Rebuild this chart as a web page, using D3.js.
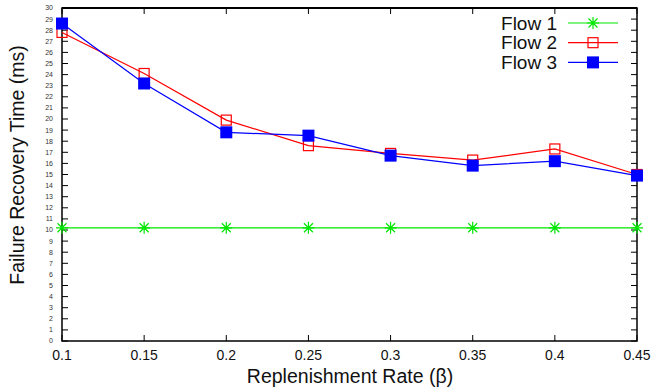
<!DOCTYPE html>
<meta charset="utf-8">
<style>
body { margin: 0; background: #fff; }
text { font-family: "Liberation Sans", Arial, Helvetica, sans-serif; }
.ytick text { font-size: 7px; fill: #333; }
.xtick text { font-size: 14px; fill: #111; }
.title { font-size: 19.5px; fill: #111; }
.legend text { font-size: 19px; fill: #111; }
</style>
<svg width="651" height="389"></svg>
<script src="https://d3js.org/d3.v7.min.js"></script>
<script>

var rates = [0.1, 0.15, 0.2, 0.25, 0.3, 0.35, 0.4, 0.45];
var flow1 = [10.2, 10.2, 10.2, 10.2, 10.2, 10.2, 10.2, 10.2];
var flow2 = [27.8, 24.1, 19.9, 17.6, 16.9, 16.3, 17.3, 15.0];
var flow3 = [28.6, 23.2, 18.8, 18.5, 16.7, 15.8, 16.2, 14.9];
var xTicks = ["0.1", "0.15", "0.2", "0.25", "0.3", "0.35", "0.4", "0.45"];
var yTicks = d3.range(0, 31);

var svg = d3.select("svg"),
    plotL = 62, plotR = 637, plotT = 8, plotB = 341;

var x = d3.scaleLinear().domain([0.1, 0.45]).range([plotL, plotR]);
var y = d3.scaleLinear().domain([0, 30]).range([plotB, plotT]);

var series = [
  {name: "Flow 1", values: flow1, color: "#00e600", marker: "star"},
  {name: "Flow 2", values: flow2, color: "#ff0000", marker: "open"},
  {name: "Flow 3", values: flow3, color: "#0000ff", marker: "filled"}
];

// ticks, gnuplot style (inward, mirrored)
var yt = svg.append("g").attr("class", "ytick");
yTicks.forEach(function(v) {
  yt.append("line").attr("x1", plotL).attr("x2", plotL + 6).attr("y1", y(v)).attr("y2", y(v)).attr("stroke", "#000");
  yt.append("line").attr("x1", plotR).attr("x2", plotR - 6).attr("y1", y(v)).attr("y2", y(v)).attr("stroke", "#000");
  yt.append("text").attr("x", plotL - 9).attr("y", y(v)).attr("dy", "0.35em")
    .attr("text-anchor", "end").text(v);
});

var xt = svg.append("g").attr("class", "xtick");
rates.forEach(function(v, i) {
  xt.append("line").attr("x1", x(v)).attr("x2", x(v)).attr("y1", plotB).attr("y2", plotB - 6).attr("stroke", "#000");
  xt.append("line").attr("x1", x(v)).attr("x2", x(v)).attr("y1", plotT).attr("y2", plotT + 6).attr("stroke", "#000");
  xt.append("text").attr("x", x(v)).attr("y", 360).attr("text-anchor", "middle").text(xTicks[i]);
});

svg.append("rect").attr("x", plotL).attr("y", plotT).attr("width", plotR - plotL).attr("height", plotB - plotT)
  .attr("fill", "none").attr("stroke", "#000").attr("stroke-width", 1.5);
svg.append("line").attr("x1", plotL).attr("x2", plotR).attr("y1", plotT).attr("y2", plotT)
  .attr("stroke", "#000").attr("stroke-width", 2);

function drawMarker(g, type, color, cx, cy) {
  if (type === "star") {
    var s = 6;
    g.append("path").attr("d",
      "M" + (cx - s) + "," + cy + "H" + (cx + s) +
      "M" + cx + "," + (cy - s) + "V" + (cy + s) +
      "M" + (cx - s * 0.75) + "," + (cy - s * 0.75) + "L" + (cx + s * 0.75) + "," + (cy + s * 0.75) +
      "M" + (cx - s * 0.75) + "," + (cy + s * 0.75) + "L" + (cx + s * 0.75) + "," + (cy - s * 0.75))
      .attr("stroke", color).attr("stroke-width", 1.2).attr("fill", "none");
  } else if (type === "open") {
    g.append("rect").attr("x", cx - 5).attr("y", cy - 5).attr("width", 10).attr("height", 10)
      .attr("fill", "none").attr("stroke", color).attr("stroke-width", 1.2);
  } else {
    g.append("rect").attr("x", cx - 6).attr("y", cy - 6).attr("width", 12).attr("height", 12)
      .attr("fill", color);
  }
}

var line = d3.line().x(function(d, i) { return x(rates[i]); }).y(function(d) { return y(d); });

series.forEach(function(s) {
  var g = svg.append("g");
  g.append("path").datum(s.values).attr("d", line)
    .attr("fill", "none").attr("stroke", s.color).attr("stroke-width", 1.2);
  s.values.forEach(function(v, i) { drawMarker(g, s.marker, s.color, x(rates[i]), y(v)); });
});

// legend
var lg = svg.append("g").attr("class", "legend");
series.forEach(function(s, i) {
  var ly = 23 + i * 19.7;
  lg.append("text").attr("x", 557).attr("y", ly).attr("dy", "0.35em").attr("text-anchor", "end").text(s.name);
  lg.append("line").attr("x1", 568).attr("x2", 618).attr("y1", ly).attr("y2", ly)
    .attr("stroke", s.color).attr("stroke-width", 1.2);
  drawMarker(lg, s.marker, s.color, 593, ly);
});

svg.append("text").attr("class", "title").attr("x", 350).attr("y", 383)
  .attr("text-anchor", "middle").text("Replenishment Rate (β)");
svg.append("text").attr("class", "title")
  .attr("transform", "translate(24,165) rotate(-90)")
  .attr("text-anchor", "middle").text("Failure Recovery Time (ms)");

</script>
